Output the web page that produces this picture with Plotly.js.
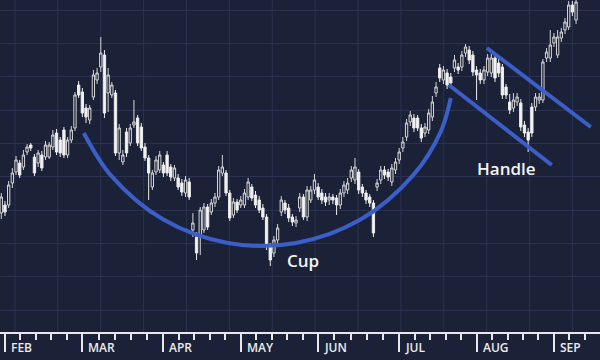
<!DOCTYPE html>
<html>
<head>
<meta charset="utf-8">
<script src="https://cdn.plot.ly/plotly-3.0.1.min.js"></script>
<style>html,body{margin:0;padding:0;background:#1b2238;}#chart{width:600px;height:360px;}</style>
</head>
<body>
<div id="chart"></div>
<script>
// ---- Data (price units; one candle per trading day) ----
const open = [
127,135,135,157,168,177,173,188,195,183,
177,185,183,183,193,207,200,210,185,200,
212,255,248,232,220,243,260,273,285,247,
245,247,187,178,208,197,215,222,213,193,
182,153,168,170,175,185,173,162,162,157,
147,158,110,103,103,110,133,128,137,143,
167,167,147,125,138,135,135,143,153,145,
140,132,123,93,87,100,128,137,132,123,
117,132,143,123,140,150,153,147,143,140,
143,142,135,147,150,162,160,168,153,147,
143,137,153,160,170,168,158,170,180,192,
203,218,222,222,212,207,210,223,247,272,
260,267,263,272,273,273,287,290,285,270,
267,260,268,267,282,277,273,253,238,232,
238,237,215,208,233,233,240,240,282,282,
297,285,302,310,313,335,320];
const high = [
147,139,159,172,184,180,190,196,197,186,
190,189,199,198,210,211,203,213,203,214,
248,259,252,236,235,270,272,303,290,272,
258,250,216,190,212,216,240,225,217,197,
185,170,184,189,178,189,176,175,166,161,
164,162,127,108,133,137,136,141,147,174,
185,170,150,142,141,144,151,162,156,149,
144,136,126,97,104,116,144,140,136,126,
124,147,146,154,154,166,157,151,147,147,
146,145,151,159,162,174,182,171,156,150,
146,140,161,174,174,171,176,182,192,203,
221,229,226,225,216,217,231,244,258,276,
274,271,267,285,277,289,296,294,289,274,
271,274,286,286,285,281,276,256,246,247,
247,241,219,212,237,247,247,281,292,310,
307,310,312,322,339,339,342];
const low = [
121,124,132,152,165,162,170,185,189,164,
173,169,180,181,190,185,183,182,182,197,
209,242,223,217,216,240,256,268,222,228,
242,184,180,175,183,194,212,194,189,179,
140,150,165,167,163,164,159,159,150,144,
143,140,103,80,85,107,110,125,133,140,
164,144,119,122,127,132,132,140,139,132,
127,120,90,74,83,96,124,126,118,114,
113,128,120,119,137,146,140,136,134,135,
136,125,131,143,146,158,156,146,143,136,
133,103,149,156,161,159,154,166,176,188,
199,214,208,209,198,203,206,219,243,258,
256,251,253,268,266,269,283,276,264,240,
256,256,264,263,258,263,241,241,226,228,
234,209,203,188,203,229,236,237,278,278,
293,282,298,306,310,324,316];
const close = [
143,128,155,167,180,165,185,193,192,167,
187,172,195,195,205,188,187,185,200,210,
245,245,227,223,232,265,267,287,227,265,
255,187,212,185,187,212,218,197,192,182,
167,167,180,185,167,167,163,172,153,148,
160,143,117,87,130,133,113,137,143,170,
173,147,122,138,130,140,147,158,142,135,
130,123,93,80,100,112,140,130,122,118,
120,143,123,150,150,160,143,140,138,143,
140,135,147,155,157,170,173,150,147,140,
137,107,157,170,165,163,172,178,188,198,
217,225,212,212,202,213,227,238,253,262,
270,255,257,280,270,285,293,280,268,265,
260,270,282,282,262,267,245,245,230,240,
243,213,207,200,207,243,243,278,288,295,
303,303,308,318,335,328,338];

// Month axis: index of first trading day of each month, and labels
const monthStart = [1, 22, 44, 65, 86, 108, 129, 150];
const monthLabels = ["FEB", "MAR", "APR", "MAY", "JUN", "JUL", "AUG", "SEP"];

// Pattern guides (day index, price)
const cupX = [22.4, 29.8, 44.0, 61.5, 80.0, 97.5, 111.7, 119.2, 122.0];
const cupY = [207, 164.4, 120.4, 97, 97, 120.4, 164.4, 207.7, 242];
const handleUpperX = [131.8, 160.0];
const handleUpperY = [292, 213];
const handleLowerX = [121.5, 149.4];
const handleLowerY = [255, 175];
const labelText = ["Cup", "Handle"];
const labelX = [81.9, 137.2];
const labelY = [80, 172];

// ---- Styling ----
const BG = '#1b2238';
const GRID = '#2a3250';
const AXIS = '#e8e8e8';
const BLUE = '#3c5ec8';
const xRange = [-0.35, 162.5];

const dayIndex = open.map((_, i) => i);

// minor ticks: 4 evenly spaced between month starts, continuing after last
const minorTicks = [];
for (let k = 0; k < monthStart.length - 1; k++) {
  const a = monthStart[k], b = monthStart[k + 1];
  for (let j = 1; j < 5; j++) minorTicks.push(a + (b - a) * j / 5);
}
for (let j = 1; j < 3; j++) minorTicks.push(monthStart[monthStart.length - 1] + 4.2 * j);

// vertical background grid
const shapes = [];
for (let gx = 3.7; gx < xRange[1]; gx += 11.64) {
  shapes.push({type: 'line', xref: 'x', yref: 'paper', x0: gx, x1: gx, y0: 0, y1: 1,
    line: {color: GRID, width: 1}, layer: 'below'});
}

const traces = [
  {
    type: 'candlestick', x: dayIndex, open: open, high: high, low: low, close: close,
    increasing: {line: {color: '#d6d6d6', width: 1}, fillcolor: BG},
    decreasing: {line: {color: '#ececec', width: 1}, fillcolor: '#f4f4f4'},
    whiskerwidth: 0, hoverinfo: 'skip', showlegend: false
  },
  {type: 'scatter', mode: 'lines', x: cupX, y: cupY,
   line: {color: BLUE, width: 4, shape: 'spline', smoothing: 1.0}, hoverinfo: 'skip'},
  {type: 'scatter', mode: 'lines', x: handleUpperX, y: handleUpperY,
   line: {color: BLUE, width: 4}, hoverinfo: 'skip'},
  {type: 'scatter', mode: 'lines', x: handleLowerX, y: handleLowerY,
   line: {color: BLUE, width: 4}, hoverinfo: 'skip'}
];

const annotations = [];
monthStart.forEach((m, k) => {
  annotations.push({x: m, xref: 'x', y: 0, yref: 'paper', yshift: -15, xshift: 4,
    xanchor: 'left', yanchor: 'middle', showarrow: false, text: monthLabels[k],
    font: {family: 'Open Sans', size: 12, color: '#ececec', weight: 600}});
});
labelText.forEach((t, k) => {
  annotations.push({x: labelX[k], y: labelY[k], xref: 'x', yref: 'y', showarrow: false,
    text: t, xanchor: 'center', yanchor: 'middle',
    font: {family: 'Open Sans', size: 17, color: '#f4f4f4', weight: 600}});
});

const layout = {
  width: 600, height: 360,
  margin: {l: 0, r: 0, t: 0, b: 28, pad: 0},
  paper_bgcolor: BG, plot_bgcolor: BG,
  showlegend: false,
  boxgap: 0.1,
  xaxis: {
    type: 'linear', range: xRange, rangeslider: {visible: false},
    tickmode: 'array', tickvals: monthStart, showticklabels: false,
    ticks: 'outside', ticklen: 18, tickwidth: 2, tickcolor: AXIS,
    showline: true, linecolor: AXIS, linewidth: 2,
    showgrid: false, zeroline: false, fixedrange: true,
    minor: {tickmode: 'array', tickvals: minorTicks, ticks: 'outside', ticklen: 6,
            tickwidth: 2, tickcolor: AXIS, showgrid: false}
  },
  yaxis: {
    range: [8, 340], tickmode: 'linear', tick0: 30, dtick: 100 / 3,
    showticklabels: false, ticks: '', showgrid: true, gridcolor: GRID, gridwidth: 1,
    zeroline: false, showline: false, fixedrange: true
  },
  shapes: shapes,
  annotations: annotations
};

Plotly.newPlot('chart', traces, layout, {staticPlot: true, displayModeBar: false});
</script>
</body>
</html>
